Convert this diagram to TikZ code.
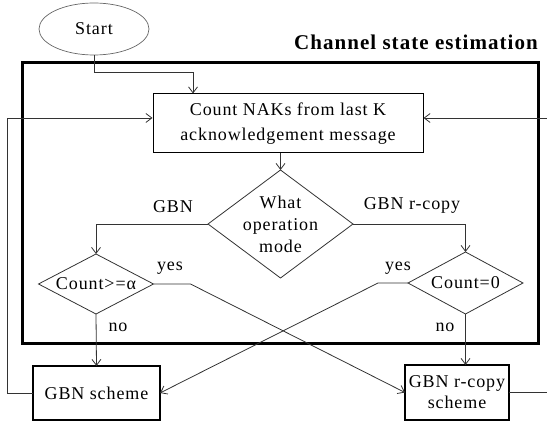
\documentclass[tikz,border=0pt]{standalone}
\usepackage{fontspec}
\setmainfont{Liberation Serif}[LetterSpace=5]
\usetikzlibrary{shapes.geometric,arrows.meta}
\tikzset{
  thin line/.style={line width=0.8pt, draw=black!80},
  arr/.style={thin line, -{Straight Barb[length=6pt,width=9pt]}},
  dia/.style={diamond, thin line, inner sep=0pt, outer sep=0pt},
  scheme/.style={draw, line width=2pt, inner sep=0pt, outer sep=0pt, align=center},
  lbl/.style={inner sep=0pt, font=\fontsize{18}{21}\selectfont},
}
\begin{document}
\begin{tikzpicture}[x=1pt, y=-1pt, font=\fontsize{18}{22}\selectfont]
\useasboundingbox (0,0) rectangle (547,425);
\clip (0,0) rectangle (547,425);
% start
\node[ellipse, draw=black!60, line width=0.7pt, minimum width=110pt, minimum height=52pt, inner sep=0pt] (start) at (94,29) {Start};
% container
\node[draw, line width=3pt, minimum width=516pt, minimum height=280pt, inner sep=0pt] (cse) at (280,203) {};
\node[anchor=base east, inner sep=0pt, font=\fontsize{21}{24}\selectfont\bfseries] (title) at (538,50) {Channel state estimation};
% count box
\node[draw, line width=1pt, minimum width=270pt, minimum height=59pt, inner sep=0pt, align=center, font=\fontsize{18}{25}\selectfont] (count) at (288,123.5) {Count NAKs from last K\\acknowledgement message};
% decision diamonds
\node[dia, minimum width=145pt, minimum height=108pt, label={[align=center, font=\fontsize{18}{22}\selectfont]center:What\\operation\\mode}] (d1) at (280.5,224) {};
\node[dia, minimum width=115pt, minimum height=60pt, label={center:Count>=α}] (ca) at (96,284) {};
\node[dia, minimum width=115pt, minimum height=62pt, label={center:Count=0}] (c0) at (465.5,283) {};
% schemes
\node[scheme, minimum width=127pt, minimum height=54pt] (gs) at (96.5,393) {GBN scheme};
\node[scheme, minimum width=104pt, minimum height=55pt, font=\fontsize{18}{21}\selectfont] (rs) at (457,392.5) {GBN r-copy\\scheme};
% labels
\node[lbl] (lgbn) at (173,207) {GBN};
\node[lbl] (lrc) at (412,205) {GBN r-copy};
\node[lbl] (ly1) at (170,268) {yes};
\node[lbl] (ly2) at (398,268) {yes};
\node[lbl] (ln1) at (118,327) {no};
\node[lbl] (ln2) at (445,327) {no};
% connectors
\coordinate (j1) at (193,72);
\draw[arr] (start.south) |- (j1) -- (j1 |- count.north);
\draw[arr] (d1.north |- count.south) -- (d1.north);
\draw[arr] (d1.west) -| (ca.north);
\draw[arr] (d1.east) -| (c0.north);
\draw[arr] (ca.south) -- (gs.north);
\draw[arr] (c0.south) -- (c0.south |- rs.north);
\draw[arr] (ca.east) -- ++(37,0) -- (rs.west);
\draw[arr] (c0.west) -- ++(-30,0) -- (gs.east);
\draw[arr] (gs.west) -- ++(-25.5,0) |- ([yshift=5.5pt]count.west);
\draw[arr] (rs.east) -- ++(45,0) |- ([yshift=5.5pt]count.east);
\end{tikzpicture}
\end{document}
